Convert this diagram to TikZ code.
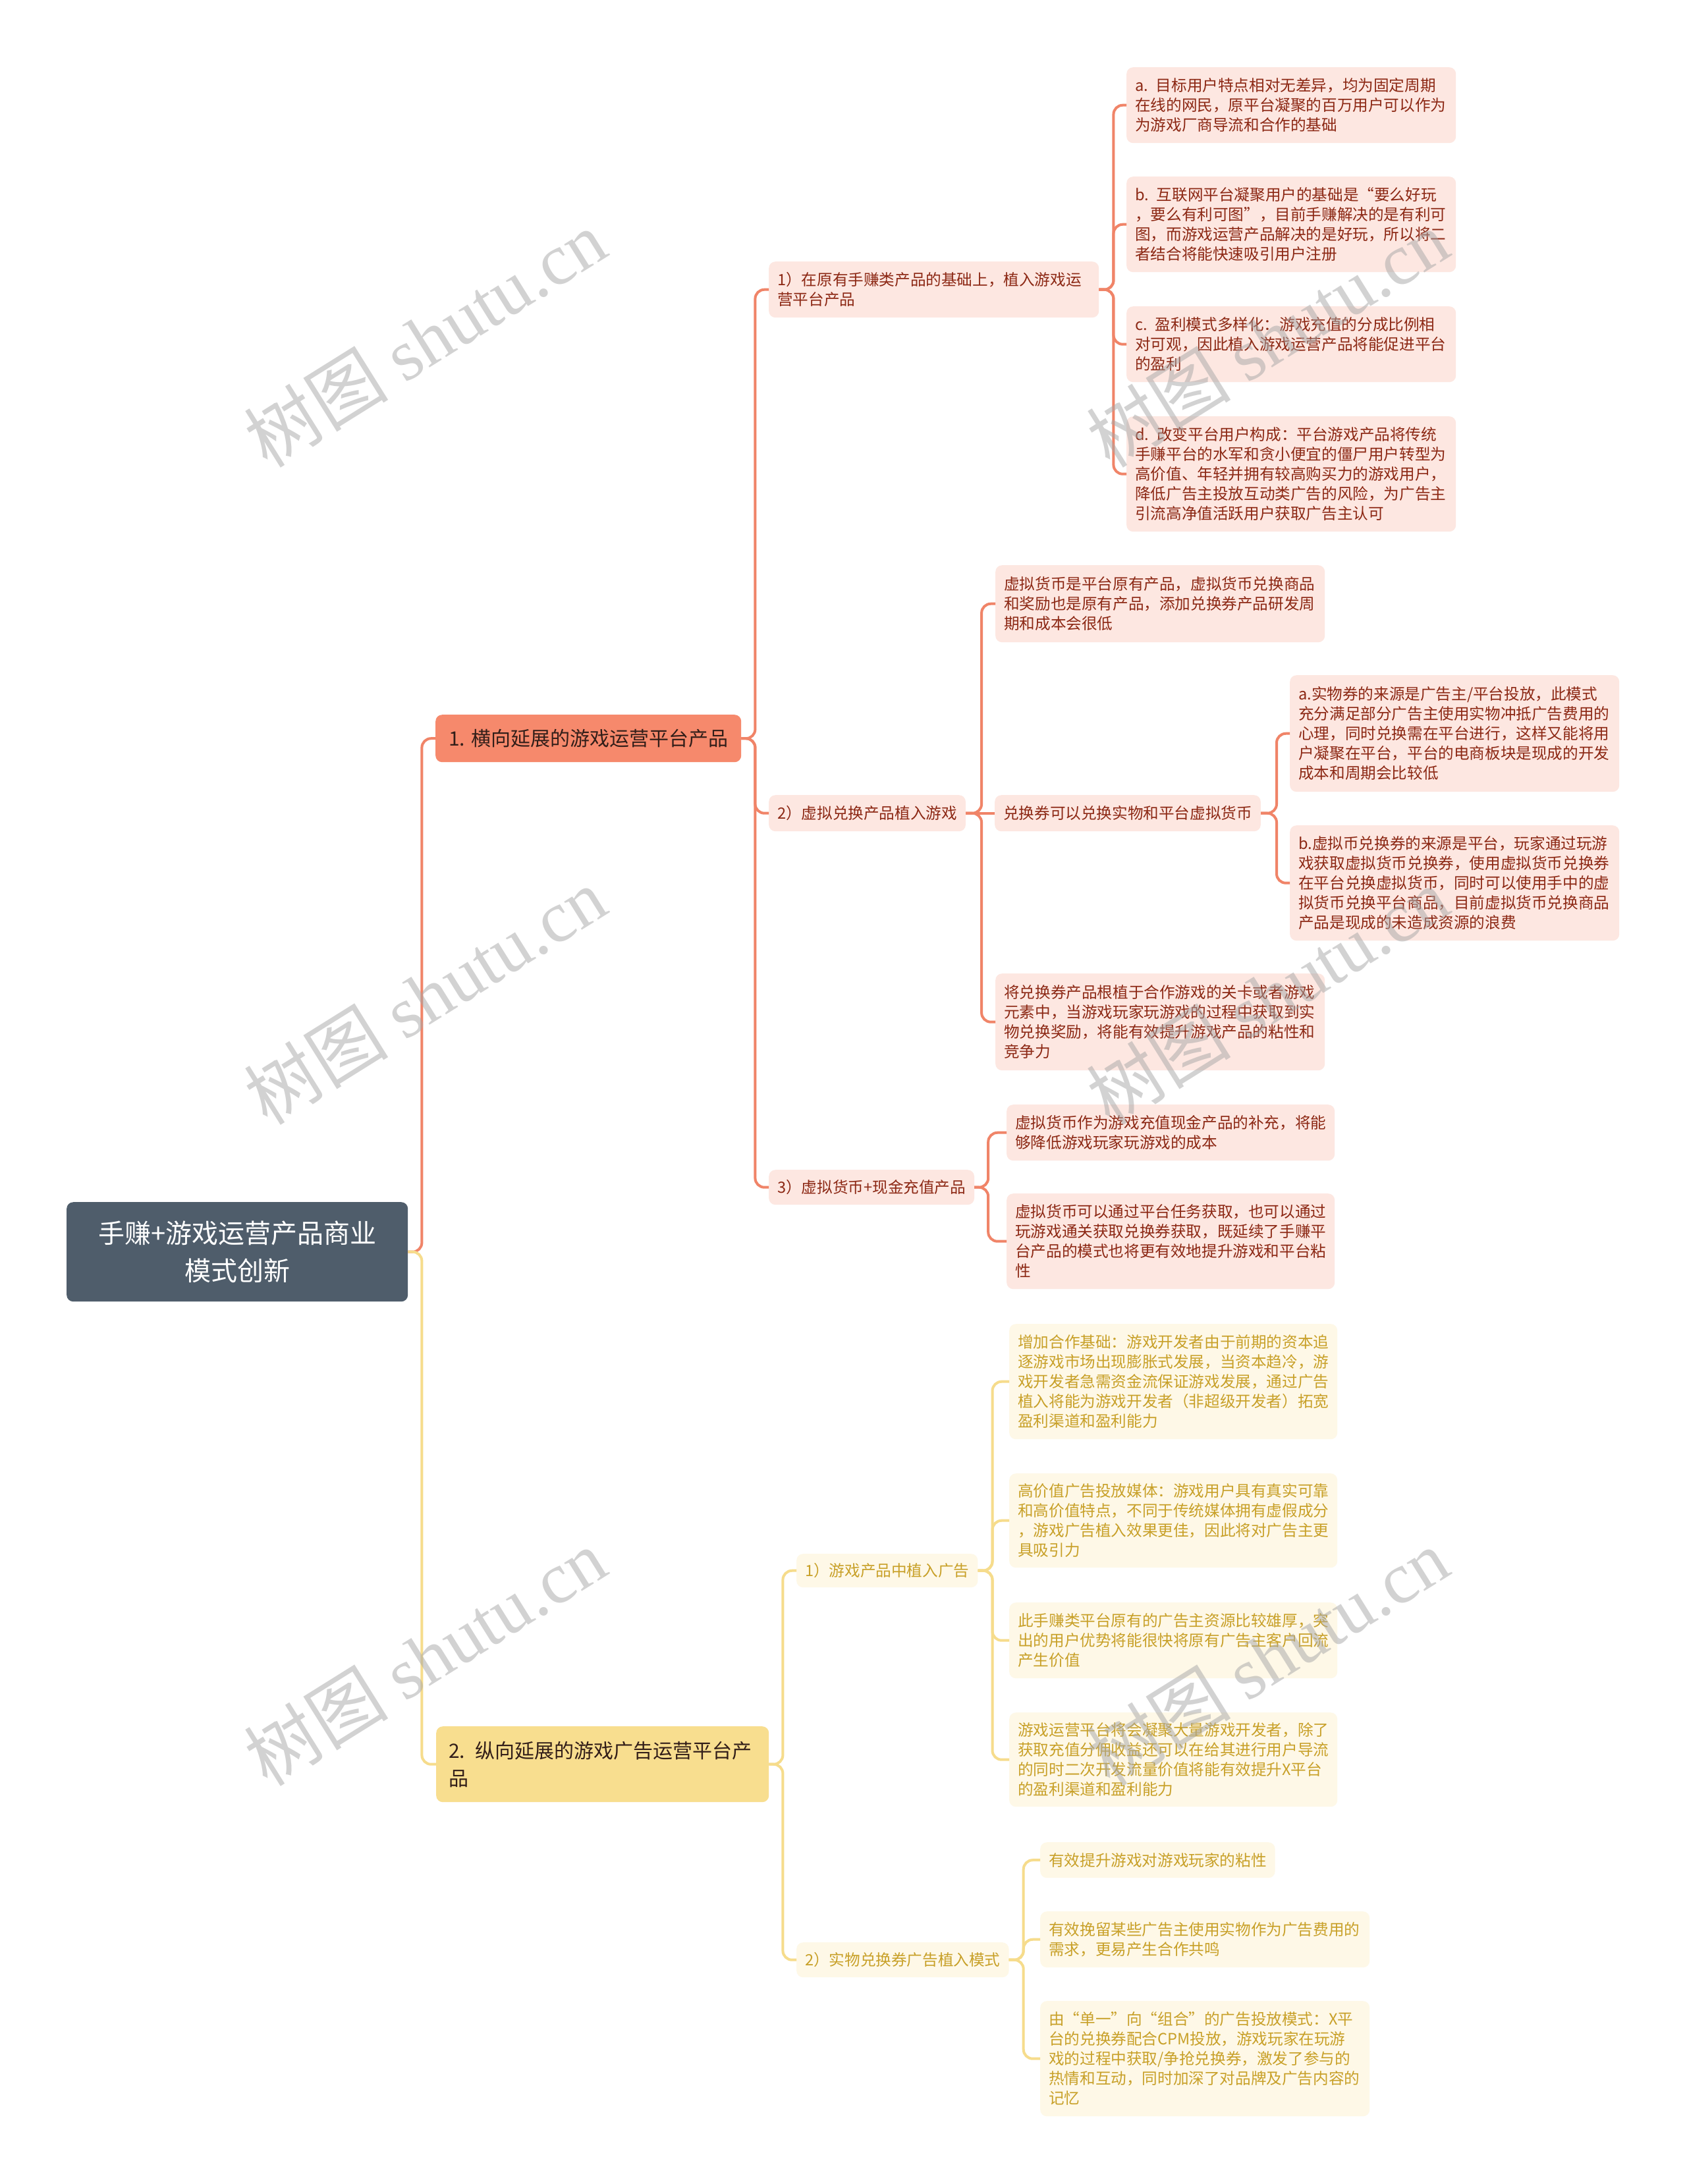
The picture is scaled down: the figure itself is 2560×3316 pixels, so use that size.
\documentclass[tikz,border=0pt]{standalone}
\usepackage{fontspec}
\setmainfont{Noto Sans CJK SC}
\newfontfamily\wmserif{Liberation Serif}
\definecolor{rootfill}{RGB}{79,93,107}
\definecolor{nafill}{RGB}{246,137,108}
\definecolor{nbfill}{RGB}{248,222,143}
\definecolor{pfill}{RGB}{253,231,225}
\definecolor{yfill}{RGB}{254,248,231}
\definecolor{ptext}{RGB}{140,40,20}
\definecolor{ytext}{RGB}{200,160,40}
\definecolor{pline}{RGB}{240,132,104}
\definecolor{yline}{RGB}{246,220,140}
\definecolor{darktext}{RGB}{50,30,25}
\tikzset{
  leaf/.style={anchor=north west, rounded corners=10pt, align=left, inner xsep=13pt, inner ysep=0pt, font=\fontsize{23.6}{30}\selectfont},
  pleaf/.style={leaf, fill=pfill, text=ptext},
  yleaf/.style={leaf, fill=yfill, text=ytext},
  pconn/.style={draw=pline, line width=4pt, rounded corners=14pt},
  yconn/.style={draw=yline, line width=4pt, rounded corners=14pt},
  wm/.style={text=black!35, opacity=0.5, font=\fontsize{110}{110}\selectfont, rotate=32},
}
\begin{document}
\begin{tikzpicture}[x=1pt,y=-1pt]
\useasboundingbox (0,0) rectangle (2560,3316);
\fill[white] (0,0) rectangle (2560,3316);

% root and main branches
\node[anchor=north west, fill=rootfill, text=white, rounded corners=10pt, minimum width=518pt, minimum height=151pt, inner sep=0pt, align=center, font=\fontsize{40}{57}\selectfont] (R) at (101,1825) {手赚+游戏运营产品商业\\模式创新};
\node[anchor=north west, fill=nafill, text=darktext, rounded corners=10pt, minimum width=464pt, minimum height=72pt, inner sep=0pt, font=\fontsize{30}{42}\selectfont] (NA) at (661,1085) {1. 横向延展的游戏运营平台产品};
\node[anchor=north west, fill=nbfill, text=darktext, rounded corners=10pt, text width=467pt, inner xsep=19pt, inner ysep=0pt, minimum height=115pt, align=left, font=\fontsize{30}{42}\selectfont] (NB) at (662,2621) {2. 纵向延展的游戏广告运营平台产\\品};

% pink subtree
\node[pleaf, text width=475pt, minimum height=85pt] (P1) at (1167,397) {1）在原有手赚类产品的基础上，植入游戏运\\营平台产品};
\node[pleaf, text width=474pt, minimum height=115pt] (A1) at (1710,102) {a. 目标用户特点相对无差异，均为固定周期\\在线的网民，原平台凝聚的百万用户可以作为\\为游戏厂商导流和合作的基础};
\node[pleaf, text width=474pt, minimum height=145pt] (A2) at (1710,268) {b. 互联网平台凝聚用户的基础是“要么好玩\\，要么有利可图”，目前手赚解决的是有利可\\图，而游戏运营产品解决的是好玩，所以将二\\者结合将能快速吸引用户注册};
\node[pleaf, text width=474pt, minimum height=115pt] (A3) at (1710,465) {c. 盈利模式多样化：游戏充值的分成比例相\\对可观，因此植入游戏运营产品将能促进平台\\的盈利};
\node[pleaf, text width=474pt, minimum height=175pt] (A4) at (1710,632) {d. 改变平台用户构成：平台游戏产品将传统\\手赚平台的水军和贪小便宜的僵尸用户转型为\\高价值、年轻并拥有较高购买力的游戏用户，\\降低广告主投放互动类广告的风险，为广告主\\引流高净值活跃用户获取广告主认可};

\node[pleaf, minimum height=55pt] (P2) at (1167,1207) {2）虚拟兑换产品植入游戏};
\node[pleaf, text width=474pt, minimum height=117pt] (V1) at (1511,858) {虚拟货币是平台原有产品，虚拟货币兑换商品\\和奖励也是原有产品，添加兑换券产品研发周\\期和成本会很低};
\node[pleaf, minimum height=55pt] (V2) at (1510,1207) {兑换券可以兑换实物和平台虚拟货币};
\node[pleaf, text width=474pt, minimum height=177pt] (V2A) at (1958,1025) {a.实物券的来源是广告主/平台投放，此模式\\充分满足部分广告主使用实物冲抵广告费用的\\心理，同时兑换需在平台进行，这样又能将用\\户凝聚在平台，平台的电商板块是现成的开发\\成本和周期会比较低};
\node[pleaf, text width=474pt, minimum height=175pt] (V2B) at (1958,1253) {b.虚拟币兑换券的来源是平台，玩家通过玩游\\戏获取虚拟货币兑换券，使用虚拟货币兑换券\\在平台兑换虚拟货币，同时可以使用手中的虚\\拟货币兑换平台商品，目前虚拟货币兑换商品\\产品是现成的未造成资源的浪费};
\node[pleaf, text width=474pt, minimum height=147pt] (V3) at (1511,1478) {将兑换券产品根植于合作游戏的关卡或者游戏\\元素中，当游戏玩家玩游戏的过程中获取到实\\物兑换奖励，将能有效提升游戏产品的粘性和\\竞争力};

\node[pleaf, minimum height=53pt] (P3) at (1167,1776) {3）虚拟货币+现金充值产品};
\node[pleaf, text width=472pt, minimum height=85pt] (W1) at (1528,1677) {虚拟货币作为游戏充值现金产品的补充，将能\\够降低游戏玩家玩游戏的成本};
\node[pleaf, text width=472pt, minimum height=145pt] (W2) at (1528,1812) {虚拟货币可以通过平台任务获取，也可以通过\\玩游戏通关获取兑换券获取，既延续了手赚平\\台产品的模式也将更有效地提升游戏和平台粘\\性};

% yellow subtree
\node[yleaf, minimum height=51pt] (Y1) at (1209,2359) {1）游戏产品中植入广告};
\node[yleaf, text width=472pt, minimum height=175pt] (Y1A) at (1532,2010) {增加合作基础：游戏开发者由于前期的资本追\\逐游戏市场出现膨胀式发展，当资本趋冷，游\\戏开发者急需资金流保证游戏发展，通过广告\\植入将能为游戏开发者（非超级开发者）拓宽\\盈利渠道和盈利能力};
\node[yleaf, text width=472pt, minimum height=143pt] (Y1B) at (1532,2237) {高价值广告投放媒体：游戏用户具有真实可靠\\和高价值特点，不同于传统媒体拥有虚假成分\\，游戏广告植入效果更佳，因此将对广告主更\\具吸引力};
\node[yleaf, text width=472pt, minimum height=115pt] (Y1C) at (1532,2433) {此手赚类平台原有的广告主资源比较雄厚，突\\出的用户优势将能很快将原有广告主客户回流\\产生价值};
\node[yleaf, text width=472pt, minimum height=143pt] (Y1D) at (1532,2600) {游戏运营平台将会凝聚大量游戏开发者，除了\\获取充值分佣收益还可以在给其进行用户导流\\的同时二次开发流量价值将能有效提升X平台\\的盈利渠道和盈利能力};

\node[yleaf, minimum height=53pt] (Y2) at (1209,2949) {2）实物兑换券广告植入模式};
\node[yleaf, minimum height=54pt] (Y2A) at (1579,2797) {有效提升游戏对游戏玩家的粘性};
\node[yleaf, text width=474pt, minimum height=85pt] (Y2B) at (1579,2902) {有效挽留某些广告主使用实物作为广告费用的\\需求，更易产生合作共鸣};
\node[yleaf, text width=474pt, minimum height=175pt] (Y2C) at (1579,3038) {由“单一”向“组合”的广告投放模式：X平\\台的兑换券配合CPM投放，游戏玩家在玩游\\戏的过程中获取/争抢兑换券，激发了参与的\\热情和互动，同时加深了对品牌及广告内容的\\记忆};

% connectors
\draw[pconn] (R.east) -- ++(21,0) |- (NA.west);
\draw[yconn] (R.east) -- ++(21,0) |- (NB.west);

\foreach \c in {P1,P2,P3} \draw[pconn] (NA.east) -- ++(21,0) |- (\c.west);
\foreach \c in {A1,A2,A3,A4} \draw[pconn] (P1.east) -- ++(22,0) |- (\c.west);
\foreach \c in {V1,V3} \draw[pconn] (P2.east) -- ++(24,0) |- (\c.west);
\draw[pconn] (P2.east) -- (V2.west);
\foreach \c in {V2A,V2B} \draw[pconn] (V2.east) -- ++(24,0) |- (\c.west);
\foreach \c in {W1,W2} \draw[pconn] (P3.east) -- ++(21,0) |- (\c.west);

\foreach \c in {Y1,Y2} \draw[yconn] (NB.east) -- ++(21,0) |- (\c.west);
\foreach \c in {Y1A,Y1B,Y1C,Y1D} \draw[yconn] (Y1.east) -- ++(22,0) |- (\c.west);
\foreach \c in {Y2A,Y2B,Y2C} \draw[yconn] (Y2.east) -- ++(22,0) |- (\c.west);

% watermarks
\node[wm] (WM1) at (645,514) {树图 {\wmserif shutu.cn}};
\node[wm] (WM2) at (645,1512) {树图 {\wmserif shutu.cn}};
\node[wm] (WM3) at (645,2516) {树图 {\wmserif shutu.cn}};
\node[wm] (WM4) at (1924,514) {树图 {\wmserif shutu.cn}};
\node[wm] (WM5) at (1924,1512) {树图 {\wmserif shutu.cn}};
\node[wm] (WM6) at (1924,2516) {树图 {\wmserif shutu.cn}};
\end{tikzpicture}
\end{document}
